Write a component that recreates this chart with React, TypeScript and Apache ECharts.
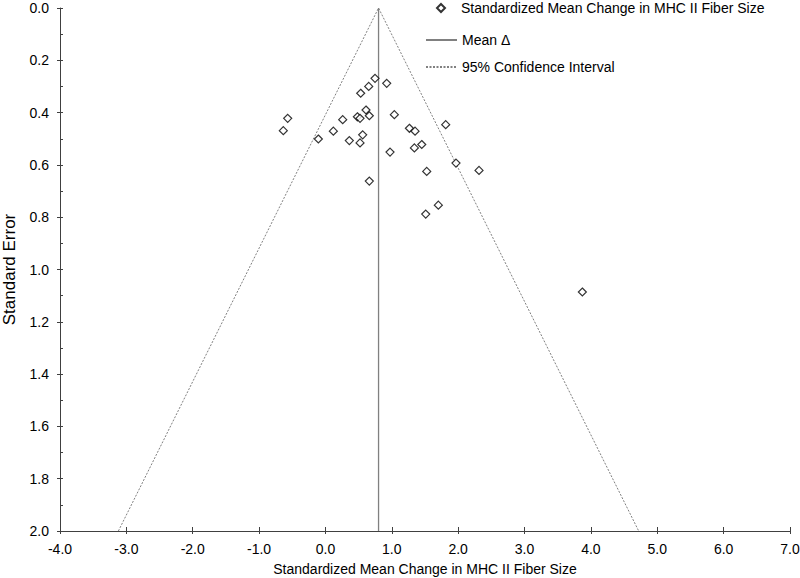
import React, { useEffect, useRef } from "react";
import * as echarts from "echarts";

// Standardized mean change (x) and standard error (y) for each study
const effectSizes = [
  0.747, 0.652, 0.531, 0.923, -0.569, -0.635, -0.107, 0.119, 0.26, 0.481,
  0.521, 0.611, 0.661, 0.36, 0.561, 0.521, 0.661, 0.973, 1.038, 1.265,
  1.35, 1.812, 1.34, 1.451, 1.967, 2.314, 1.526, 1.701, 1.511, 3.871,
];
const standardErrors = [
  0.269, 0.3, 0.326, 0.288, 0.422, 0.469, 0.501, 0.471, 0.427, 0.416,
  0.422, 0.39, 0.412, 0.507, 0.485, 0.516, 0.662, 0.551, 0.408, 0.46,
  0.471, 0.446, 0.535, 0.522, 0.593, 0.621, 0.625, 0.754, 0.788, 1.086,
];
const meanDelta = 0.8;
const ciMultiplier = 1.96;
const seMin = 0;
const seMax = 2;
const xMin = -4;
const xMax = 7;

const seriesNames = [
  "Standardized Mean Change in MHC II Fiber Size",
  "Mean Δ",
  "95% Confidence Interval",
];
const xAxisTitle = "Standardized Mean Change in MHC II Fiber Size";
const yAxisTitle = "Standard Error";

export default function App() {
  const ref = useRef<HTMLDivElement>(null);

  useEffect(() => {
    if (!ref.current) return;
    const chart = echarts.init(ref.current, null, { renderer: "svg" });
    const font = "Liberation Sans, Arial, Helvetica, sans-serif";
    const points = effectSizes.map((x, i) => [x, standardErrors[i]]);
    const meanLine = [
      [meanDelta, seMin],
      [meanDelta, seMax],
    ];
    const ciLine = [
      [meanDelta - ciMultiplier * seMax, seMax],
      [meanDelta, seMin],
      [meanDelta + ciMultiplier * seMax, seMax],
    ];
    const axisColor = "#404040";
    const lineColor = "#808080";
    const fmt = (v: number) => v.toFixed(1);
    const legendText = { fontSize: 14, color: "#000", fontFamily: font };

    chart.setOption({
      animation: false,
      backgroundColor: "#ffffff",
      textStyle: { fontFamily: font },
      grid: { left: 60, right: 10, top: 8, bottom: 47, containLabel: false, outerBoundsMode: "none" },
      legend: [
        {
          orient: "vertical",
          left: 436,
          top: 1,
          padding: 0,
          itemWidth: 8,
          itemHeight: 8,
          textStyle: { ...legendText, padding: [0, 0, 0, 11] },
          data: [seriesNames[0]],
        },
        {
          orient: "vertical",
          left: 425,
          top: 33,
          padding: 0,
          itemWidth: 31,
          itemHeight: 8,
          itemGap: 13,
          textStyle: legendText,
          data: [seriesNames[1], seriesNames[2]],
        },
      ],
      xAxis: [
        {
          type: "value",
          min: xMin,
          max: xMax,
          interval: 1,
          position: "bottom",
          name: xAxisTitle,
          nameLocation: "middle",
          nameGap: 31,
          nameTextStyle: { fontSize: 14, color: "#000", fontFamily: font },
          axisLine: { show: true, onZero: false, lineStyle: { color: axisColor, width: 1 } },
          axisTick: { show: true, inside: false, length: 3, lineStyle: { color: axisColor } },
          axisLabel: { formatter: fmt, fontSize: 14, color: "#000", margin: 11, fontFamily: font },
          splitLine: { show: false },
        },
        {
          type: "value",
          min: xMin,
          max: xMax,
          interval: 1,
          position: "bottom",
          axisLine: { show: false, onZero: false },
          axisTick: { show: true, inside: true, length: 4, lineStyle: { color: axisColor } },
          axisLabel: { show: false },
          splitLine: { show: false },
        },
      ],
      yAxis: [
        {
          type: "value",
          min: seMin,
          max: seMax,
          interval: 0.2,
          inverse: true,
          position: "left",
          name: yAxisTitle,
          nameLocation: "middle",
          nameGap: 42,
          nameTextStyle: { fontSize: 17, color: "#000", fontFamily: font },
          axisLine: { show: true, onZero: false, lineStyle: { color: axisColor, width: 1 } },
          axisTick: { show: true, inside: false, length: 3, lineStyle: { color: axisColor } },
          axisLabel: {
            formatter: fmt,
            fontSize: 14,
            color: "#000",
            margin: 11,
            fontFamily: font,
          },
          splitLine: { show: false },
        },
        {
          type: "value",
          min: seMin,
          max: seMax,
          interval: 0.2,
          inverse: true,
          position: "left",
          axisLine: { show: false, onZero: false },
          axisTick: { show: true, inside: true, length: 3, lineStyle: { color: axisColor } },
          minorTick: { show: true, splitNumber: 2, length: 3, lineStyle: { color: axisColor } },
          axisLabel: { show: false },
          splitLine: { show: false },
        },
      ],
      series: [
        {
          name: seriesNames[2],
          type: "line",
          data: ciLine,
          symbol: "none",
          showSymbol: false,
          itemStyle: { color: "rgba(0,0,0,0)", opacity: 0 },
          lineStyle: { color: lineColor, width: 1, type: [2, 1.5] },
          z: 1,
        },
        {
          name: seriesNames[1],
          type: "line",
          data: meanLine,
          symbol: "none",
          showSymbol: false,
          itemStyle: { color: "rgba(0,0,0,0)", opacity: 0 },
          lineStyle: { color: lineColor, width: 1.3, type: "solid" },
          z: 2,
        },
        {
          name: seriesNames[0],
          type: "scatter",
          data: points,
          symbol: "diamond",
          symbolSize: [8, 8],
          itemStyle: { color: "#ffffff", borderColor: "#000000", borderWidth: 1.2 },
          z: 3,
        },
      ],
    });

    return () => chart.dispose();
  }, []);

  return (
    <div
      ref={ref}
      style={{ position: "fixed", left: 0, top: 0, width: 800, height: 578, background: "#fff" }}
    />
  );
}
